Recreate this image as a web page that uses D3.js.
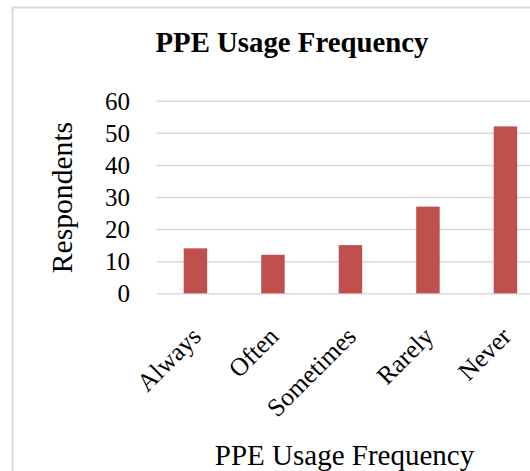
<!DOCTYPE html>
<html>
<head>
<meta charset="utf-8">
<script src="https://cdn.jsdelivr.net/npm/d3@7"></script>
<style>
  html, body { margin: 0; padding: 0; background: #fff; }
  svg { display: block; }
  text { font-family: "Liberation Serif", "Times New Roman", serif; fill: #000; }
</style>
</head>
<body>
<svg id="chart" width="530" height="471"></svg>
<script>
const categories = ["Always", "Often", "Sometimes", "Rarely", "Never"];
const respondents = [14, 12, 15, 27, 52];
const yTicks = [0, 10, 20, 30, 40, 50, 60];
const chartTitle = "PPE Usage Frequency";
const xAxisTitle = "PPE Usage Frequency";
const yAxisTitle = "Respondents";

const svg = d3.select("#chart");

// outer frame
svg.append("rect")
  .attr("x", 12.5).attr("y", 7.5)
  .attr("width", 560).attr("height", 500)
  .attr("fill", "#fff")
  .attr("stroke", "#d9d9d9")
  .attr("stroke-width", 2);

const plotLeft = 156.7, plotRight = 544.2, plotTop = 100.7, plotBottom = 293.3;

const x = d3.scaleBand().domain(categories).range([plotLeft, plotRight]).padding(0);
const y = d3.scaleLinear().domain([0, 60]).range([plotBottom, plotTop]);

// y axis with gridlines
const yAxis = d3.axisLeft(y)
  .tickValues(yTicks)
  .tickSize(-(plotRight - plotLeft))
  .tickPadding(26.7)
  .tickFormat(d3.format("d"));

const gy = svg.append("g")
  .attr("transform", `translate(${plotLeft},0)`)
  .call(yAxis);
gy.select(".domain").remove();
gy.selectAll(".tick line").attr("stroke", "#d9d9d9").attr("stroke-width", 1.5);
gy.selectAll(".tick text")
  .attr("font-size", 25)
  .attr("font-family", "Liberation Serif, Times New Roman, serif")
  .attr("fill", "#000")
  .attr("dy", "0.34em");

// bars
const barW = x.bandwidth() * 0.303;
svg.append("g").selectAll("rect")
  .data(categories)
  .join("rect")
  .attr("x", (d) => x(d) + x.bandwidth() / 2 - barW / 2)
  .attr("y", (d, i) => y(respondents[i]))
  .attr("width", barW)
  .attr("height", (d, i) => y(0) - y(respondents[i]))
  .attr("fill", "#c0504d");

// x tick labels rotated
svg.append("g").selectAll("text")
  .data(categories)
  .join("text")
  .attr("transform", (d) => `translate(${x(d) + x.bandwidth() / 2 + 7},338) rotate(-45)`)
  .attr("text-anchor", "end")
  .attr("font-size", 25.5)
  .text((d) => d);

// title
svg.append("text")
  .attr("x", 292).attr("y", 52)
  .attr("text-anchor", "middle")
  .attr("font-size", 28.8)
  .attr("font-weight", "bold")
  .text(chartTitle);

// x axis title
svg.append("text")
  .attr("x", 344.5).attr("y", 465)
  .attr("text-anchor", "middle")
  .attr("font-size", 29)
  .text(xAxisTitle);

// y axis title
svg.append("text")
  .attr("transform", "translate(72,197.5) rotate(-90)")
  .attr("text-anchor", "middle")
  .attr("font-size", 29.6)
  .text(yAxisTitle);
</script>
</body>
</html>
